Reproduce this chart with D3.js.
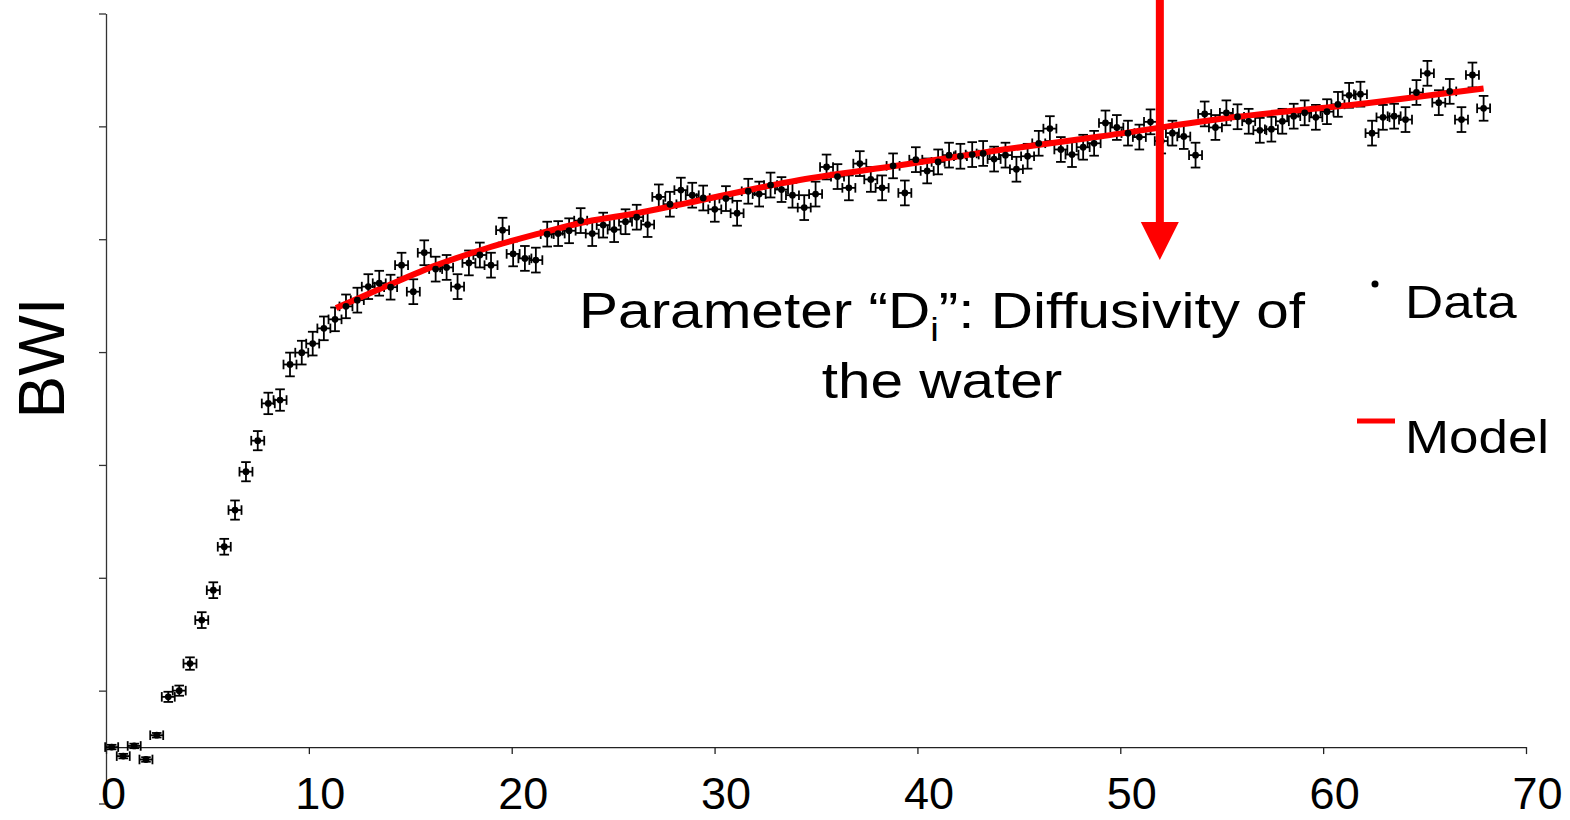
<!DOCTYPE html>
<html>
<head>
<meta charset="utf-8">
<script src="https://cdn.jsdelivr.net/npm/d3@7"></script>
<style>
  body { margin: 0; background: #fff; }
  text { font-family: "Liberation Sans", Arial, sans-serif; fill: #000; }
</style>
</head>
<body>
<svg id="chart"></svg>
<script>
// measured data (BWI, arbitrary units) vs time
var xVals = [0.28,0.85,1.39,1.97,2.50,3.07,3.61,4.14,4.72,5.29,5.83,6.36,6.90,7.48,8.00,8.58,9.07,9.65,10.19,10.74,
  11.29,11.83,12.39,12.93,13.47,14.03,14.57,15.15,15.69,16.25,16.79,17.33,17.89,18.43,18.98,19.55,20.07,20.65,21.19,21.75,
  22.29,22.83,23.40,23.97,24.51,25.05,25.61,26.16,26.70,27.25,27.80,28.34,28.90,29.44,30.01,30.56,31.11,31.66,32.20,32.76,
  33.30,33.84,34.42,34.98,35.52,36.06,36.62,37.16,37.70,38.26,38.80,39.38,39.92,40.48,41.02,41.56,42.12,42.70,43.24,43.78,
  44.34,44.88,45.43,45.98,46.53,47.07,47.62,48.17,48.71,49.27,49.83,50.38,50.94,51.49,52.02,52.57,53.13,53.71,54.16,54.69,
  55.23,55.78,56.33,56.88,57.45,57.99,58.55,59.09,59.64,60.19,60.73,61.28,61.84,62.41,62.95,63.50,64.06,64.60,65.14,65.70,
  66.24,66.82,67.36,67.91];
var yVals = [0.00,-0.16,0.02,-0.22,0.21,0.89,1.00,1.48,2.25,2.78,3.55,4.20,4.88,5.43,6.09,6.15,6.78,6.99,7.15,7.42,
  7.58,7.81,7.92,8.16,8.22,8.15,8.54,8.07,8.76,8.47,8.50,8.16,8.58,8.72,8.54,9.16,8.74,8.66,8.63,9.09,
  9.10,9.15,9.33,9.10,9.25,9.17,9.31,9.39,9.26,9.75,9.62,9.87,9.78,9.73,9.53,9.72,9.46,9.85,9.80,9.96,
  9.88,9.78,9.56,9.80,10.28,10.11,9.91,10.34,10.06,9.91,10.30,9.82,10.41,10.21,10.37,10.49,10.47,10.50,10.52,10.42,
  10.49,10.24,10.47,10.70,10.96,10.59,10.50,10.63,10.70,11.06,10.98,10.88,10.81,11.08,10.74,10.88,10.82,10.49,11.22,10.98,
  11.24,11.17,11.09,10.93,10.95,11.09,11.18,11.24,11.16,11.26,11.39,11.55,11.57,10.88,11.16,11.18,11.12,11.60,11.94,11.42,
  11.62,11.12,11.91,11.32];
var yErr = [0.04,0.04,0.04,0.04,0.04,0.09,0.09,0.11,0.14,0.14,0.14,0.17,0.17,0.17,0.19,0.19,0.21,0.21,0.21,0.21,
  0.21,0.21,0.22,0.22,0.22,0.22,0.22,0.22,0.22,0.22,0.22,0.22,0.22,0.22,0.22,0.22,0.22,0.22,0.22,0.22,
  0.22,0.22,0.22,0.22,0.22,0.22,0.22,0.22,0.22,0.22,0.22,0.22,0.22,0.22,0.22,0.22,0.22,0.22,0.22,0.22,
  0.22,0.22,0.22,0.22,0.22,0.22,0.22,0.22,0.22,0.22,0.22,0.22,0.22,0.22,0.22,0.22,0.22,0.22,0.22,0.22,
  0.22,0.22,0.22,0.22,0.22,0.22,0.22,0.22,0.22,0.22,0.22,0.22,0.22,0.22,0.22,0.22,0.22,0.22,0.22,0.22,
  0.22,0.22,0.22,0.22,0.22,0.22,0.22,0.22,0.22,0.22,0.22,0.22,0.22,0.22,0.22,0.22,0.22,0.22,0.22,0.22,
  0.22,0.22,0.22,0.22];
var xErr = 0.32;

// fitted model curve
var modelX = [11.34,13.83,16.30,18.76,21.23,23.69,26.16,28.62,34.20,39.13,44.06,48.99,55.54,62.15,67.91];
var modelY = [7.78,8.17,8.54,8.84,9.09,9.31,9.46,9.64,10.05,10.31,10.58,10.82,11.16,11.41,11.67];

var xTicks = [0,10,20,30,40,50,60,70];
var yTicks = [-1,1,3,5,7,9,11,13];
var arrowX = 51.95;

var width = 1570, height = 820;
var svg = d3.select("#chart").attr("width", width).attr("height", height);

var x = d3.scaleLinear().domain([0,70]).range([106,1526]);
var y = d3.scaleLinear().domain([-1,13]).range([803.5,13.5]);

var points = xVals.map(function(d,i){ return {x:d, y:yVals[i], e:yErr[i]}; });

// axes
var yAxis = svg.append("g")
    .attr("transform","translate("+x(0)+",0)")
    .call(d3.axisLeft(y).tickValues(yTicks).tickFormat("").tickSize(7).tickSizeOuter(0));
yAxis.selectAll("path,line").attr("stroke","#333").attr("stroke-width",1.3);

var xAxis = svg.append("g")
    .attr("transform","translate(0,"+y(0)+")")
    .call(d3.axisBottom(x).tickValues(xTicks).tickSize(7).tickSizeOuter(0));
xAxis.selectAll("path,line").attr("stroke","#222").attr("stroke-width",1.3);
xAxis.selectAll("text")
    .attr("y",62).attr("dy",0).attr("dx",function(d){ return d === 0 ? 7 : 11; })
    .style("font-size","45px").style("font-family","Liberation Sans, Arial, sans-serif").attr("fill","#000");

svg.append("text")
    .attr("transform","translate(64,358) rotate(-90)")
    .attr("text-anchor","middle")
    .style("font-size","64px")
    .text("BWI");

// error bars
var cap = 4.8;
var eb = svg.append("g").attr("stroke","#000").attr("stroke-width",1.8).attr("fill","none");
var bars = eb.selectAll(".err").data(points).enter().append("g").attr("class","err");
bars.append("line")
    .attr("x1",function(d){ return x(d.x); }).attr("x2",function(d){ return x(d.x); })
    .attr("y1",function(d){ return y(d.y+d.e); }).attr("y2",function(d){ return y(d.y-d.e); });
bars.append("line")
    .attr("x1",function(d){ return x(d.x)-cap; }).attr("x2",function(d){ return x(d.x)+cap; })
    .attr("y1",function(d){ return y(d.y+d.e); }).attr("y2",function(d){ return y(d.y+d.e); });
bars.append("line")
    .attr("x1",function(d){ return x(d.x)-cap; }).attr("x2",function(d){ return x(d.x)+cap; })
    .attr("y1",function(d){ return y(d.y-d.e); }).attr("y2",function(d){ return y(d.y-d.e); });
bars.append("line")
    .attr("x1",function(d){ return x(d.x-xErr); }).attr("x2",function(d){ return x(d.x+xErr); })
    .attr("y1",function(d){ return y(d.y); }).attr("y2",function(d){ return y(d.y); });
bars.append("line")
    .attr("x1",function(d){ return x(d.x-xErr); }).attr("x2",function(d){ return x(d.x-xErr); })
    .attr("y1",function(d){ return y(d.y)-cap; }).attr("y2",function(d){ return y(d.y)+cap; });
bars.append("line")
    .attr("x1",function(d){ return x(d.x+xErr); }).attr("x2",function(d){ return x(d.x+xErr); })
    .attr("y1",function(d){ return y(d.y)-cap; }).attr("y2",function(d){ return y(d.y)+cap; });

// model line
var line = d3.line()
    .x(function(d){ return x(d[0]); })
    .y(function(d){ return y(d[1]); })
    .curve(d3.curveMonotoneX);
svg.append("path")
    .datum(modelX.map(function(d,i){ return [d, modelY[i]]; }))
    .attr("d", line)
    .attr("fill","none").attr("stroke","#ff0000").attr("stroke-width",6);

// dots
svg.selectAll(".dot").data(points).enter().append("circle")
    .attr("class","dot")
    .attr("cx",function(d){ return x(d.x); })
    .attr("cy",function(d){ return y(d.y); })
    .attr("r",3.4).attr("fill","#000");

// arrow
var ax = x(arrowX);
svg.append("rect").attr("x",ax-4).attr("y",0).attr("width",8).attr("height",223).attr("fill","#ff0000");
svg.append("path")
    .attr("d","M"+(ax-19)+",222L"+(ax+19)+",222L"+ax+",260Z")
    .attr("fill","#ff0000");

// annotation (glyphs are a bit wide in the original)
var annG = svg.append("g").attr("transform","translate(942,0) scale(1.17,1)");
var ann = annG.append("text").attr("text-anchor","middle").style("font-size","50px");
ann.append("tspan").attr("x",0).attr("y",328).text("Parameter \u201cD");
ann.append("tspan").attr("dy",13).style("font-size","33px").text("i");
ann.append("tspan").attr("dy",-13).text("\u201d: Diffusivity of");
annG.append("text").attr("text-anchor","middle").style("font-size","50px")
    .attr("x",0).attr("y",398).text("the water");

// legend
svg.append("circle").attr("cx",1375).attr("cy",284).attr("r",3.5).attr("fill","#000");
svg.append("line").attr("x1",1357).attr("x2",1395).attr("y1",421).attr("y2",421)
    .attr("stroke","#ff0000").attr("stroke-width",5);
var leg = svg.append("g").attr("transform","translate(1405,0) scale(1.15,1)");
leg.append("text").attr("x",0).attr("y",318).style("font-size","46px").text("Data");
leg.append("text").attr("x",0).attr("y",453).style("font-size","46px").text("Model");
</script>
</body>
</html>
